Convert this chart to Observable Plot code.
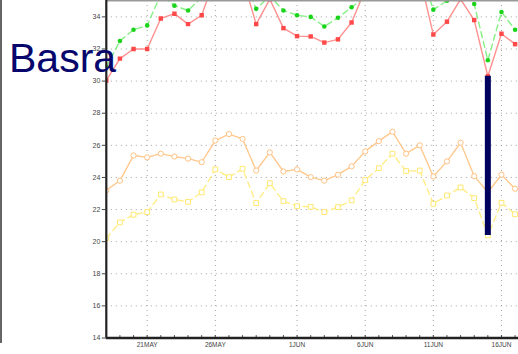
<!DOCTYPE html>
<html>
<head>
<meta charset="utf-8">
<script src="https://cdn.jsdelivr.net/npm/d3@7"></script>
<script src="https://cdn.jsdelivr.net/npm/@observablehq/plot@0.6"></script>
<style>
  html, body { margin: 0; padding: 0; background: #fff; }
  #wrap { position: relative; width: 518px; height: 354px; overflow: hidden; }
  #edge { position: absolute; left: 0; top: 0; width: 2px; height: 343px; background: #666; }
  #title { position: absolute; left: 9px; top: 38px; font: 41px/1 "Liberation Sans", Arial, sans-serif; color: #06066c; z-index: 2; }
</style>
</head>
<body>
<div id="wrap">
  <div id="edge"></div>
  <div id="chart"></div>
  <div id="title">Basra</div>
</div>
<script>
// ---- data ----
const days = [
  "2018-05-18","2018-05-19","2018-05-20","2018-05-21","2018-05-22","2018-05-23","2018-05-24",
  "2018-05-25","2018-05-26","2018-05-27","2018-05-28","2018-05-29","2018-05-30","2018-05-31",
  "2018-06-01","2018-06-02","2018-06-03","2018-06-04","2018-06-05","2018-06-06","2018-06-07",
  "2018-06-08","2018-06-09","2018-06-10","2018-06-11","2018-06-12","2018-06-13","2018-06-14",
  "2018-06-15","2018-06-16","2018-06-17"
];
const redMax = [30.04,31.4,32.0,32.0,33.9,34.2,33.55,34.1,36.5,37.0,36.4,33.55,35.1,33.3,
  32.8,32.78,32.4,32.6,33.65,35.7,37.0,37.5,37.0,36.5,32.9,33.7,35.1,33.8,30.3,32.95,32.3];
const greenMax = [30.87,32.5,33.2,33.47,35.4,34.7,34.4,35.2,37.5,38.0,36.6,34.5,35.3,34.4,
  34.1,34.0,33.4,33.95,34.6,35.2,37.5,38.0,38.0,37.0,34.45,35.0,36.0,34.8,31.3,34.3,33.2];
const orangeMin = [23.2,23.8,25.37,25.25,25.48,25.3,25.17,24.95,26.3,26.7,26.4,24.43,25.56,24.37,
  24.5,24.02,23.8,24.17,24.69,25.62,26.26,26.85,25.48,26.0,24.06,25.0,26.16,24.08,23.08,24.17,23.3];
const yellowMin = [20.22,21.2,21.68,21.84,22.94,22.63,22.48,23.07,24.5,24.02,24.54,22.4,23.64,22.52,
  22.21,22.17,21.84,22.15,22.57,23.83,24.58,25.48,24.4,24.43,22.36,22.88,23.38,22.71,20.39,22.42,21.71];
const barDay = "2018-06-15";
const xTickDays = ["2018-05-21","2018-05-26","2018-06-01","2018-06-06","2018-06-11","2018-06-16"];
const xTickLabels = ["21MAY","26MAY","1JUN","6JUN","11JUN","16JUN"];
const yTicks = [14,16,18,20,22,24,26,28,30,32,34];

// ---- build ----
const D = s => new Date(s + "T00:00:00Z");
const rows = (vals) => days.map((d, i) => ({date: D(d), v: vals[i]}));
const red = rows(redMax), green = rows(greenMax), orange = rows(orangeMin), yellow = rows(yellowMin);
const bi = days.indexOf(barDay);
const bar = [{date: D(barDay), lo: yellowMin[bi], hi: redMax[bi]}];
const xTicks = xTickDays.map(D);
const labelOf = new Map(xTicks.map((d, i) => [+d, xTickLabels[i]]));
const dayMs = 86400000;
const x0 = D(days[0]);
const x1 = new Date(+x0 + 30.25 * dayMs);

const chart = Plot.plot({
  width: 518,
  height: 354,
  marginLeft: 105.8,
  marginRight: 0,
  marginTop: 0,
  marginBottom: 16.5,
  style: {fontFamily: "'Liberation Sans', Arial, sans-serif", background: "transparent", color: "#333"},
  x: {type: "utc", domain: [x0, x1]},
  y: {domain: [14, 35.02]},
  marks: [
    Plot.gridY(yTicks.slice(1), {stroke: "#a0a0a0", strokeOpacity: 1, strokeDasharray: "1,4"}),
    Plot.gridX(xTicks, {stroke: "#a0a0a0", strokeOpacity: 1, strokeDasharray: "1,4"}),
    // orange (solid, open circles)
    Plot.line(orange, {x: "date", y: "v", stroke: "#ffc98f", strokeWidth: 1.4, clip: true}),
    Plot.dot(orange, {x: "date", y: "v", r: 2.6, stroke: "#ffc283", fill: "white", strokeWidth: 1, clip: true}),
    // yellow (dashed, open squares)
    Plot.line(yellow, {x: "date", y: "v", stroke: "#ffee88", strokeWidth: 1.4, strokeDasharray: "6,4", clip: true}),
    Plot.dot(yellow, {x: "date", y: "v", symbol: "square", r: 2.7, stroke: "#ffe870", fill: "white", strokeWidth: 1, clip: true}),
    // green (dashed, filled circles)
    Plot.line(green, {x: "date", y: "v", stroke: "#86f086", strokeWidth: 1.4, strokeDasharray: "6,4", clip: true}),
    Plot.dot(green, {x: "date", y: "v", r: 2.3, fill: "#1ad41a", stroke: "none", clip: true}),
    // red (solid, filled squares)
    Plot.line(red, {x: "date", y: "v", stroke: "#ff9090", strokeWidth: 1.4, clip: true}),
    Plot.dot(red, {x: "date", y: "v", symbol: "square", r: 2.5, fill: "#ff4848", stroke: "none", clip: true}),
    // navy bar
    Plot.ruleX(bar, {x: "date", y1: "lo", y2: "hi", stroke: "#00005e", strokeWidth: 6}),
    // frame top
    Plot.ruleY([35.02], {stroke: "#999", strokeWidth: 2}),
    // axes
    Plot.ruleY([14], {stroke: "#222", strokeWidth: 2.5}),
    Plot.ruleX(days.map(D), {x: d => d, y1: 14, y2: 14.15, stroke: "#222", strokeWidth: 0.8}),
    Plot.ruleX([x0], {stroke: "#222", strokeWidth: 2.2}),
    Plot.axisY(yTicks, {tickSize: 4, tickPadding: 2, fontSize: 7, stroke: "#444", fill: "#444", label: null}),
    Plot.axisX(xTicks, {tickSize: 0, tickPadding: 4, fontSize: 6.5, fill: "#444", tickFormat: d => labelOf.get(+d), label: null})
  ]
});
document.getElementById("chart").appendChild(chart);
</script>
</body>
</html>
